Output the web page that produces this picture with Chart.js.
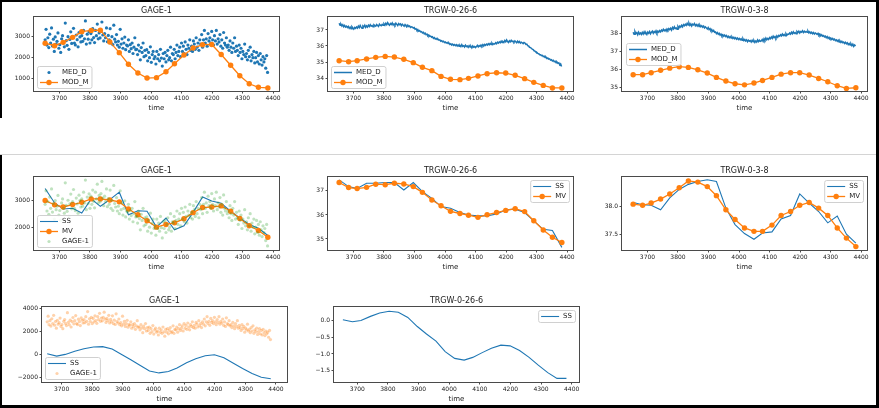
<!DOCTYPE html>
<html>
<head>
<meta charset="utf-8">
<script src="https://cdn.jsdelivr.net/npm/chart.js@4.4.0/dist/chart.umd.min.js"></script>
<style>
  body { margin: 0; background: #fff; }
  #page { position: relative; width: 879px; height: 408px; overflow: hidden; background: #fff; }
  #page canvas { position: absolute; }
  .bar { position: absolute; background: #000; }
  .sep { position: absolute; background: #d4d4d4; }
</style>
</head>
<body>
<div id="page">
  <div class="bar" style="left:0;top:0;width:879px;height:2px"></div>
  <div class="bar" style="left:0;top:0;width:2px;height:118px"></div>
  <div class="bar" style="left:0;top:155px;width:2px;height:253px"></div>
  <div class="bar" style="left:876px;top:0;width:3px;height:408px"></div>
  <div class="bar" style="left:0;top:405px;width:879px;height:3px"></div>
  <div class="sep" style="left:0;top:154px;width:876px;height:1px"></div>
</div>
<script>
// ---- data ----
// monthly model / simulation times (days)
var monthDays = [3653, 3684, 3712, 3743, 3773, 3804, 3834, 3865, 3896, 3926, 3957, 3987, 4018,
                 4049, 4077, 4108, 4138, 4169, 4199, 4230, 4261, 4291, 4322, 4352, 4383];
// daily observations, sampled every 3 days from day 3653
var dayStart = 3653, dayStep = 3;
var xTicks = [3700, 3800, 3900, 4000, 4100, 4200, 4300, 4400];

var gageObs = [
  2850, 3350, 2600, 2950, 2480, 3120, 2700, 3420, 2560, 2880,
  2300, 2990, 2650, 2780, 3180, 2450, 2620, 2250, 2900, 3050,
  2700, 2520, 3650, 2810, 2590, 3000, 2400, 2870, 3230, 2680,
  2950, 3400, 2700, 2610, 3080, 2860, 2520, 3190, 2990, 2750,
  3050, 2780, 3300, 2900, 3750, 2650, 3120, 2880, 3240, 2700,
  3150, 2850, 3380, 2960, 2720, 3300, 3050, 3600, 2900, 3180,
  2940, 3250, 3700, 3080, 2800, 3150, 2950, 3420, 2760, 3060,
  2850, 3380, 2700, 3000, 2620, 3550, 2880, 2750, 3100, 2600,
  2780, 2500, 3350, 2650, 2900, 2450, 2700, 2980, 2380, 2600,
  2560, 2850, 2300, 2620, 2430, 2700, 2200, 2500, 2950, 2380,
  2400, 2150, 2600, 2320, 1900, 2480, 2250, 2700, 2050, 2350,
  2100, 2380, 1850, 2250, 2000, 2520, 1780, 2150, 2300, 1950,
  2050, 1700, 2300, 1950, 2150, 1850, 2400, 1980, 1600, 2200,
  1950, 2250, 1800, 2100, 2350, 1900, 2000, 2500, 1850, 2200,
  2150, 2400, 1950, 2250, 2600, 2100, 2300, 2500, 2050, 2700,
  2300, 2550, 2200, 2750, 2400, 2150, 2600, 2450, 2850, 2350,
  2550, 2300, 2800, 2650, 2400, 2950, 2500, 2700, 2350, 2850,
  2650, 3100, 2500, 2850, 3300, 2700, 2900, 2550, 3150, 2800,
  2950, 2700, 3250, 2850, 2600, 3050, 2800, 3300, 2650, 2900,
  2750, 3100, 2550, 2850, 2450, 3200, 2700, 2600, 2950, 2500,
  2600, 2350, 2800, 2500, 2250, 2700, 2450, 2950, 2300, 2550,
  2350, 2100, 2600, 2250, 2450, 1950, 2300, 2150, 2650, 2050,
  2200, 1900, 2350, 2050, 2500, 1850, 2150, 2000, 2300, 1750,
  2000, 2250, 1800, 2100, 1700, 2200, 1900, 1650, 2050, 1800,
  1950, 1500, 2100, 1300
];

var trgw26Obs = [
  37.42, 37.30, 37.36, 37.25, 37.33, 37.20, 37.28, 37.18, 37.24, 37.15,
  37.22, 37.10, 37.18, 37.08, 37.20, 37.12, 37.05, 37.16, 37.10, 37.19,
  37.12, 37.24, 37.15, 37.28, 37.18, 37.10, 37.25, 37.20, 37.30, 37.16,
  37.26, 37.18, 37.30, 37.22, 37.33, 37.24, 37.28, 37.20, 37.32, 37.27,
  37.24, 37.34, 37.28, 37.22, 37.36, 37.30, 37.26, 37.35, 37.29, 37.38,
  37.30, 37.42, 37.33, 37.46, 37.36, 37.30, 37.40, 37.34, 37.44, 37.31,
  37.38, 37.30, 37.42, 37.35, 37.28, 37.40, 37.33, 37.38, 37.27, 37.36,
  37.30, 37.24, 37.34, 37.26, 37.20, 37.30, 37.22, 37.25, 37.16, 37.20,
  37.18, 37.12, 37.15, 37.05, 37.08, 36.98, 37.02, 36.92, 36.96, 36.88,
  36.90, 36.82, 36.86, 36.76, 36.80, 36.70, 36.74, 36.64, 36.68, 36.60,
  36.62, 36.55, 36.58, 36.48, 36.52, 36.44, 36.47, 36.40, 36.43, 36.36,
  36.38, 36.30, 36.33, 36.26, 36.30, 36.22, 36.25, 36.18, 36.22, 36.15,
  36.18, 36.10, 36.14, 36.06, 36.12, 36.04, 36.09, 36.02, 36.08, 36.00,
  36.06, 35.98, 36.04, 35.96, 36.08, 35.98, 36.02, 35.94, 36.05, 35.97,
  36.00, 35.92, 36.02, 35.94, 35.98, 35.88, 36.00, 35.93, 35.97, 35.90,
  35.96, 36.04, 35.94, 36.02, 35.97, 36.06, 35.99, 36.08, 36.00, 36.10,
  36.04, 36.12, 36.06, 36.14, 36.08, 36.16, 36.10, 36.18, 36.09, 36.15,
  36.12, 36.20, 36.14, 36.24, 36.18, 36.26, 36.20, 36.30, 36.22, 36.28,
  36.22, 36.34, 36.26, 36.38, 36.28, 36.22, 36.32, 36.26, 36.35, 36.28,
  36.30, 36.24, 36.32, 36.26, 36.20, 36.30, 36.22, 36.28, 36.18, 36.24,
  36.20, 36.15, 36.22, 36.18, 36.10, 36.12, 36.02, 36.00, 35.92, 35.90,
  35.86, 35.80, 35.78, 35.70, 35.68, 35.62, 35.60, 35.54, 35.52, 35.46,
  35.46, 35.40, 35.42, 35.34, 35.36, 35.28, 35.30, 35.22, 35.25, 35.18,
  35.20, 35.12, 35.14, 35.06, 35.10, 35.02, 35.05, 34.96, 35.00, 34.92,
  34.95, 34.82, 34.88, 34.72
];

var trgw38Obs = [
  38.06, 37.95, 38.10, 37.98, 38.04, 37.92, 38.06, 37.96, 38.02, 37.94,
  38.05, 37.96, 38.08, 37.98, 38.03, 37.94, 38.07, 38.00, 38.10, 37.97,
  38.06, 38.12, 38.00, 38.10, 38.04, 38.14, 38.02, 38.12, 38.06, 38.15,
  38.08, 38.18, 38.12, 38.22, 38.14, 38.20, 38.12, 38.24, 38.17, 38.26,
  38.20, 38.28, 38.18, 38.32, 38.24, 38.36, 38.26, 38.30, 38.22, 38.38,
  38.30, 38.40, 38.34, 38.44, 38.36, 38.48, 38.42, 38.50, 38.44, 38.55,
  38.46, 38.56, 38.44, 38.52, 38.40, 38.50, 38.46, 38.54, 38.42, 38.48,
  38.40, 38.48, 38.38, 38.45, 38.36, 38.42, 38.34, 38.40, 38.30, 38.36,
  38.30, 38.24, 38.32, 38.20, 38.26, 38.15, 38.20, 38.10, 38.16, 38.06,
  38.08, 37.98, 38.04, 37.95, 38.00, 37.90, 37.96, 37.86, 37.92, 37.84,
  37.90, 37.82, 37.88, 37.78, 37.84, 37.76, 37.82, 37.74, 37.80, 37.72,
  37.78, 37.70, 37.76, 37.68, 37.74, 37.66, 37.72, 37.64, 37.70, 37.62,
  37.70, 37.60, 37.66, 37.58, 37.64, 37.54, 37.62, 37.56, 37.60, 37.52,
  37.62, 37.54, 37.60, 37.50, 37.58, 37.52, 37.64, 37.55, 37.62, 37.56,
  37.58, 37.66, 37.56, 37.70, 37.62, 37.74, 37.64, 37.72, 37.66, 37.76,
  37.70, 37.80, 37.72, 37.84, 37.76, 37.82, 37.74, 37.86, 37.78, 37.88,
  37.84, 37.92, 37.86, 37.96, 37.88, 37.94, 37.86, 37.98, 37.90, 37.96,
  37.94, 38.02, 37.96, 38.06, 37.98, 38.08, 38.00, 38.04, 37.98, 38.10,
  38.04, 38.12, 38.02, 38.10, 38.06, 38.14, 38.04, 38.12, 38.06, 38.10,
  38.06, 38.12, 38.02, 38.08, 38.00, 38.06, 37.98, 38.04, 37.96, 38.02,
  37.98, 37.94, 38.00, 37.90, 37.96, 37.86, 37.92, 37.84, 37.88, 37.80,
  37.84, 37.76, 37.82, 37.72, 37.78, 37.70, 37.74, 37.66, 37.72, 37.64,
  37.68, 37.60, 37.64, 37.56, 37.62, 37.52, 37.58, 37.50, 37.56, 37.48,
  37.52, 37.44, 37.50, 37.42, 37.48, 37.38, 37.44, 37.36, 37.42, 37.32,
  37.40, 37.28, 37.36, 37.30
];

// MOD_M (model, monthly)
var gageMod   = [2690, 2570, 2730, 2970, 3240, 3300, 3310, 2750, 2240, 1690, 1270, 1030, 1050,
                 1330, 1710, 2130, 2460, 2620, 2630, 2150, 1640, 1140, 760, 590, 560];
var trgw26Mod = [35.08, 35.02, 35.08, 35.19, 35.29, 35.35, 35.31, 35.17, 34.96, 34.67, 34.46, 34.10, 33.92,
                 33.90, 33.98, 34.13, 34.27, 34.33, 34.31, 34.17, 33.96, 33.73, 33.54, 33.38, 33.38];
var trgw38Mod = [35.72, 35.72, 35.83, 35.96, 36.08, 36.16, 36.12, 35.99, 35.81, 35.57, 35.37, 35.22, 35.16,
                 35.26, 35.40, 35.57, 35.75, 35.83, 35.83, 35.70, 35.51, 35.33, 35.11, 34.96, 35.00];

// SS / MV (middle row)
var gageSS   = [3440, 2900, 2675, 2700, 2525, 3050, 2775, 3025, 3300, 2460, 2610, 2590, 2000,
                2340, 1900, 2050, 2550, 3125, 2970, 2890, 2590, 2340, 2100, 1960, 1690];
var gageMV   = [2990, 2830, 2750, 2840, 2925, 3050, 3050, 3010, 2940, 2675, 2460, 2240, 2000,
                2100, 2160, 2310, 2540, 2730, 2750, 2790, 2590, 2325, 2050, 1875, 1625];
var trgw26SS = [37.46, 37.18, 37.10, 37.32, 37.32, 37.35, 37.35, 37.04, 37.35, 36.97, 36.69, 36.35, 36.28,
                36.10, 36.00, 35.96, 35.96, 36.04, 36.21, 36.24, 36.10, 35.75, 35.40, 35.35, 34.65];
var trgw26MV = [37.35, 37.14, 37.10, 37.15, 37.28, 37.26, 37.32, 37.29, 37.18, 36.94, 36.62, 36.38, 36.15,
                36.06, 35.99, 35.90, 36.01, 36.10, 36.19, 36.26, 36.14, 35.76, 35.37, 35.07, 34.85];
var trgw38SS = [38.07, 38.03, 38.02, 37.94, 38.15, 38.30, 38.39, 38.44, 38.47, 38.44, 37.97, 37.68, 37.52,
                37.42, 37.53, 37.55, 37.78, 37.84, 38.22, 38.06, 37.91, 37.71, 37.83, 37.51, 37.35];
var trgw38MV = [38.04, 38.02, 38.06, 38.13, 38.22, 38.33, 38.45, 38.43, 38.35, 38.19, 37.94, 37.77, 37.62,
                37.56, 37.56, 37.67, 37.84, 37.91, 38.02, 38.07, 37.97, 37.84, 37.62, 37.44, 37.29];

// SS (bottom row)
var gageSSb   = [60, -150, 0, 270, 500, 650, 680, 470, 0, -470, -975, -1450, -1620,
                 -1500, -1180, -740, -380, -120, -30, -300, -770, -1240, -1680, -2000, -2130];
var trgw26SSb = [0.01, -0.05, -0.01, 0.11, 0.21, 0.26, 0.23, 0.08, -0.19, -0.41, -0.62, -0.93, -1.13,
                 -1.18, -1.10, -0.96, -0.83, -0.74, -0.76, -0.90, -1.10, -1.33, -1.55, -1.72, -1.72];

// ---- helpers ----
var FONT = '"DejaVu Sans", sans-serif';
var BLUE = '#1f77b4', ORANGE = '#ff7f0e';

function monthly(vals) {
  return vals.map(function (v, i) { return { x: monthDays[i], y: v }; });
}
function daily(vals) {
  return vals.map(function (v, i) { return { x: dayStart + i * dayStep, y: v }; });
}
function dots(label, data, color, r) {
  return { label: label, data: data, showLine: false, pointRadius: r, pointBorderWidth: 0,
           pointBackgroundColor: color, borderColor: color, backgroundColor: color };
}
function line(label, data, color, w) {
  return { label: label, data: data, showLine: true, borderColor: color, borderWidth: w,
           pointRadius: 0, backgroundColor: color, fill: false, tension: 0 };
}
function marked(label, data, color) {
  var d = line(label, data, color, 1.3);
  d.pointRadius = 2.7;
  d.pointBorderWidth = 0;
  d.pointBackgroundColor = color;
  return d;
}
function fmt(dec) {
  return function (v) { return Number(v).toFixed(dec).replace('-', '\u2212'); };
}

// matplotlib-like frame, title, xlabel and legend
var mplPlugin = {
  id: 'mpl',
  afterDraw: function (chart, args, o) {
    var ctx = chart.ctx, a = chart.chartArea;
    ctx.save();
    ctx.strokeStyle = '#4a4a4a';
    ctx.lineWidth = 1;
    ctx.strokeRect(a.left - 0.5, a.top - 0.5, a.right - a.left + 1, a.bottom - a.top + 1);

    ctx.fillStyle = '#222';
    ctx.textAlign = 'center';
    ctx.textBaseline = 'middle';
    ctx.font = '8px ' + FONT;
    ctx.fillText(o.title, (a.left + a.right) / 2, a.top - 6);
    ctx.font = '7px ' + FONT;
    ctx.fillText('time', (a.left + a.right) / 2, a.bottom + 17);

    // legend
    var sets = chart.data.datasets;
    var fs = 7, rowH = 8, gapY = 2, padX = 3, padY = 2, hl = 18, htp = 4;
    ctx.font = fs + 'px ' + FONT;
    var tw = 0;
    sets.forEach(function (d) { tw = Math.max(tw, ctx.measureText(d.label).width); });
    var bw = padX * 2 + hl + htp + tw;
    var bh = padY * 2 + sets.length * rowH + (sets.length - 1) * gapY;
    var x, y;
    if (o.legend === 'll') { x = a.left + 3; y = a.bottom - 3 - bh; }
    else if (o.legend === 'cl') { x = a.left + 4; y = (a.top + a.bottom) / 2 - bh / 2; }
    else { x = a.right - 4 - bw; y = a.top + 3; }
    ctx.beginPath();
    if (ctx.roundRect) ctx.roundRect(x + 0.5, y + 0.5, bw, bh, 2); else ctx.rect(x + 0.5, y + 0.5, bw, bh);
    ctx.fillStyle = 'rgba(255,255,255,0.85)';
    ctx.fill();
    ctx.strokeStyle = '#d0d0d0';
    ctx.stroke();
    sets.forEach(function (d, i) {
      var cy = y + padY + i * (rowH + gapY) + rowH / 2 + 0.5;
      var hx = x + padX;
      if (d.showLine) {
        ctx.beginPath();
        ctx.moveTo(hx, cy);
        ctx.lineTo(hx + hl, cy);
        ctx.strokeStyle = d.borderColor;
        ctx.lineWidth = d.borderWidth;
        ctx.stroke();
      }
      if (d.pointRadius > 0) {
        ctx.beginPath();
        ctx.arc(hx + hl / 2, cy, d.pointRadius, 0, Math.PI * 2);
        ctx.fillStyle = d.pointBackgroundColor;
        ctx.fill();
      }
      ctx.fillStyle = '#222';
      ctx.textAlign = 'left';
      ctx.fillText(d.label, hx + hl + htp, cy);
    });
    ctx.restore();
  }
};

// ---- subplots ----
var X12 = [3616.5, 4419.5];
var plots = [
  { box: [34, 17, 245, 74], title: 'GAGE-1', x: X12, y: [414, 3938], yTicks: [1000, 2000, 3000], dec: 0, legend: 'll',
    sets: [dots('MED_D', daily(gageObs), BLUE, 1.6), marked('MOD_M', monthly(gageMod), ORANGE)] },
  { box: [328, 17, 245, 74], title: 'TRGW-0-26-6', x: X12, y: [33.19, 37.81], yTicks: [34, 35, 36, 37], dec: 0, legend: 'll',
    sets: [line('MED_D', daily(trgw26Obs), BLUE, 1.5), marked('MOD_M', monthly(trgw26Mod), ORANGE)] },
  { box: [622, 17, 245, 74], title: 'TRGW-0-3-8', x: X12, y: [34.82, 38.9], yTicks: [35, 36, 37, 38], dec: 0, legend: 'cl',
    sets: [line('MED_D', daily(trgw38Obs), BLUE, 1.5), marked('MOD_M', monthly(trgw38Mod), ORANGE)] },
  { box: [34, 177, 245, 73], title: 'GAGE-1', x: X12, y: [1150, 3865], yTicks: [2000, 3000], dec: 0, legend: 'll',
    sets: [line('SS', monthly(gageSS), BLUE, 1.1), marked('MV', monthly(gageMV), ORANGE),
           dots('GAGE-1', daily(gageObs), 'rgba(44,160,44,0.3)', 1.6)] },
  { box: [328, 177, 245, 73], title: 'TRGW-0-26-6', x: X12, y: [34.54, 37.58], yTicks: [35, 36, 37], dec: 0, legend: 'ur',
    sets: [line('SS', monthly(trgw26SS), BLUE, 1.1), marked('MV', monthly(trgw26MV), ORANGE)] },
  { box: [622, 177, 245, 73], title: 'TRGW-0-3-8', x: X12, y: [37.23, 38.52], yTicks: [37.5, 38.0], dec: 1, legend: 'ur',
    sets: [line('SS', monthly(trgw38SS), BLUE, 1.1), marked('MV', monthly(trgw38MV), ORANGE)] },
  { box: [42, 307, 245, 75], title: 'GAGE-1', x: [3636, 4436], y: [-2415, 4150], yTicks: [-2000, 0, 2000, 4000], dec: 0, legend: 'll',
    sets: [line('SS', monthly(gageSSb), BLUE, 1.1), dots('GAGE-1', daily(gageObs), 'rgba(255,127,14,0.35)', 1.6)] },
  { box: [334, 307, 245, 75], title: 'TRGW-0-26-6', x: [3624, 4424], y: [-1.827, 0.387], yTicks: [-1.5, -1.0, -0.5, 0.0], dec: 1, legend: 'ur',
    sets: [line('SS', monthly(trgw26SSb), BLUE, 1.1)] }
];

var padL = 34, padT = 20, padR = 14, padB = 24;
var page = document.getElementById('page');

plots.forEach(function (p) {
  var cv = document.createElement('canvas');
  var w = p.box[2] + padL + padR, h = p.box[3] + padT + padB;
  cv.width = w; cv.height = h;
  cv.style.left = (p.box[0] - padL) + 'px';
  cv.style.top = (p.box[1] - padT) + 'px';
  cv.style.width = w + 'px'; cv.style.height = h + 'px';
  page.insertBefore(cv, page.querySelector('.bar'));
  var n = p.sets.length;
  p.sets.forEach(function (d, i) { d.order = n - i; });

  new Chart(cv.getContext('2d'), {
    type: 'scatter',
    data: { datasets: p.sets },
    options: {
      responsive: false,
      animation: false,
      devicePixelRatio: 1,
      events: [],
      layout: { padding: { left: 0, top: padT, right: padR, bottom: 0 } },
      plugins: {
        legend: { display: false },
        tooltip: { enabled: false },
        mpl: { title: p.title, legend: p.legend }
      },
      scales: {
        x: {
          type: 'linear', min: p.x[0], max: p.x[1],
          afterFit: function (s) { s.height = padB; },
          afterBuildTicks: function (s) { s.ticks = xTicks.map(function (v) { return { value: v }; }); },
          grid: { drawOnChartArea: false, drawTicks: true, tickLength: 2.5, color: '#4a4a4a' },
          border: { display: false },
          ticks: { font: { size: 6, family: FONT }, color: '#222', padding: 1.5, maxRotation: 0,
                   autoSkip: false, callback: function (v) { return String(v); } }
        },
        y: {
          type: 'linear', min: p.y[0], max: p.y[1],
          afterFit: function (s) { s.width = padL; },
          afterBuildTicks: function (s) { s.ticks = p.yTicks.map(function (v) { return { value: v }; }); },
          grid: { drawOnChartArea: false, drawTicks: true, tickLength: 2.5, color: '#4a4a4a' },
          border: { display: false },
          ticks: { font: { size: 6, family: FONT }, color: '#222', padding: 1.5,
                   autoSkip: false, callback: fmt(p.dec) }
        }
      }
    },
    plugins: [mplPlugin]
  });
});
</script>
</body>
</html>
